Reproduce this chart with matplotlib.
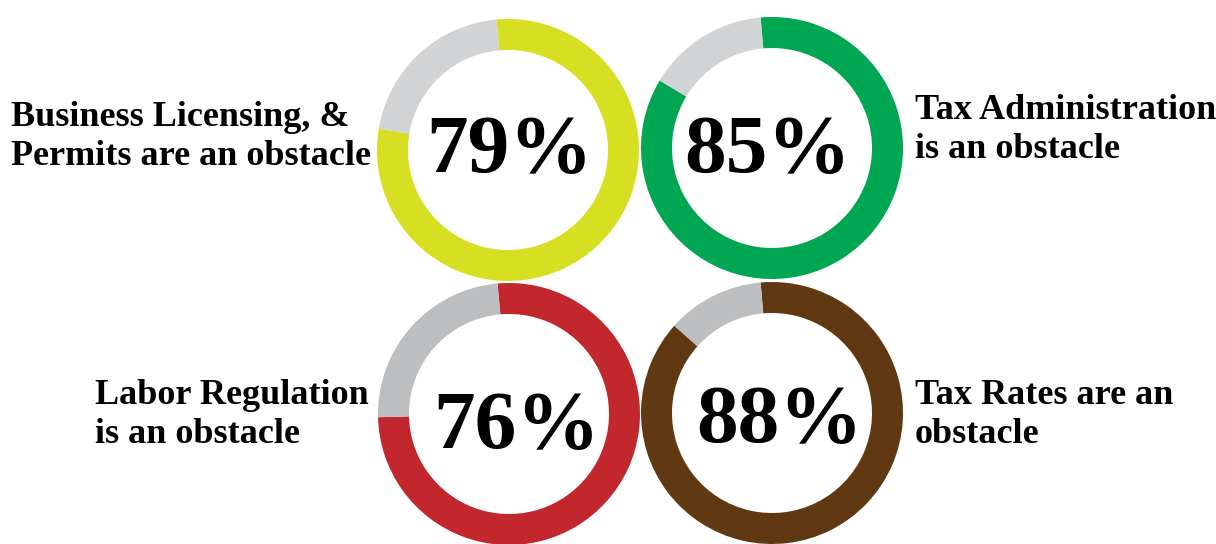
import matplotlib
matplotlib.use("Agg")
import matplotlib.pyplot as plt

W, H = 1216, 544

# data
values = [79, 85, 76, 88]
ring_colors = ["#D7DF23", "#00A651", "#C1272D", "#603913"]
rest_colors = ["#D1D3D4", "#D1D3D4", "#BCBEC0", "#BCBEC0"]
labels = ["Business Licensing, &\nPermits are an obstacle",
          "Tax Administration\nis an obstacle",
          "Labor Regulation\nis an obstacle",
          "Tax Rates are an\nobstacle"]

# layout (pixel coords, y measured from top; label y = last-line baseline)
centers = [(508, 150), (772, 148), (509, 414), (772, 413)]
pct_pos = [(510, 172), (768, 172), (517, 448), (780, 442)]
label_pos = [(371, 165, "right"), (915, 158, "left"),
             (95, 443, "left"), (915, 443, "left")]
R, RING = 131, 31

fig = plt.figure(figsize=(W / 100, H / 100), dpi=100)
ax = fig.add_axes([0, 0, 1, 1])

for v, c, g, (cx, cy) in zip(values, ring_colors, rest_colors, centers):
    ax.pie([v, 100 - v], colors=[c, g], startangle=95, counterclock=False,
           center=(cx, H - cy), radius=R,
           wedgeprops=dict(width=RING, linewidth=0))

for v, (px, py) in zip(values, pct_pos):
    ax.text(px, H - py, f"{v}%", ha="center", va="baseline",
            fontsize=60, fontweight="bold", family="Liberation Serif")

for lab, (lx, ly, ha) in zip(labels, label_pos):
    ax.text(lx, H - ly, lab, ha=ha, va="baseline", multialignment="left",
            fontsize=26, fontweight="bold", family="Liberation Serif",
            linespacing=1.25)

ax.set_xlim(0, W)
ax.set_ylim(0, H)
ax.set_aspect("auto")
ax.axis("off")

fig.savefig("out.png", dpi=100, facecolor="white")
